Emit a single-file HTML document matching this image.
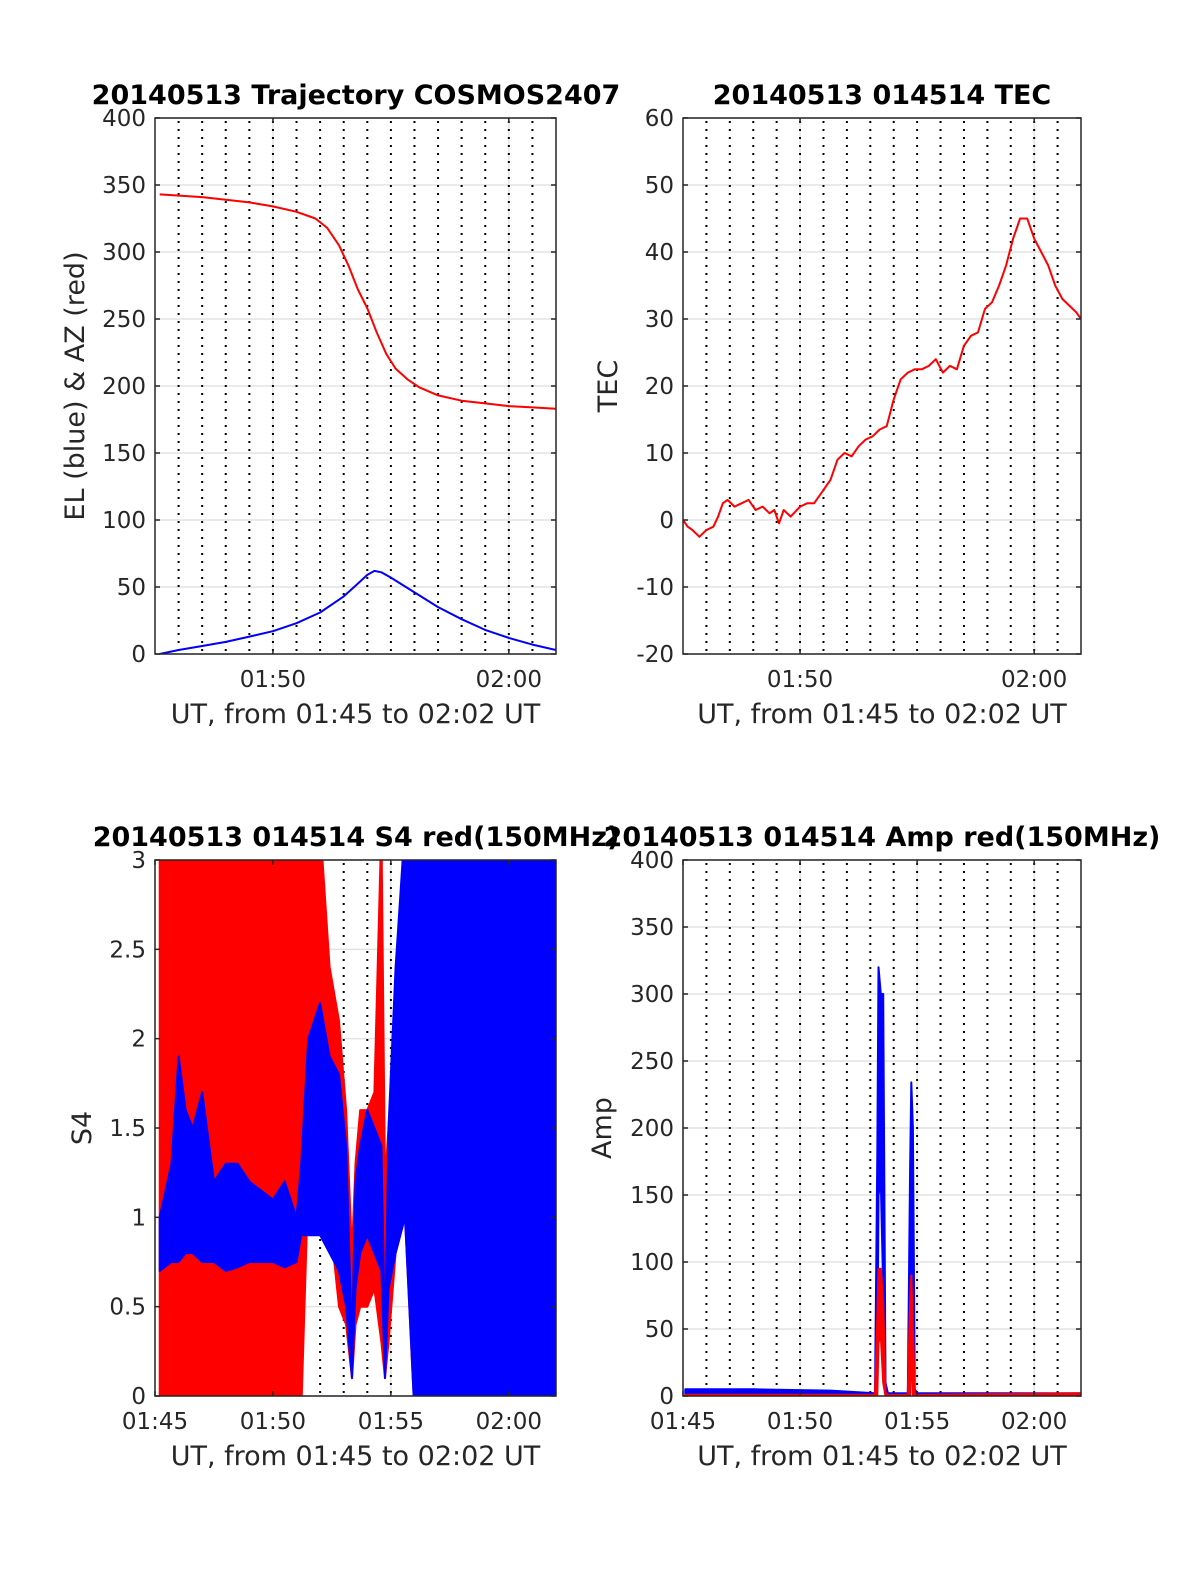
<!DOCTYPE html>
<html><head><meta charset="utf-8"><style>
body{margin:0;background:#fff}
svg{display:block;font-family:"DejaVu Sans","Liberation Sans",sans-serif}
</style></head><body>
<svg id="fig" width="1200" height="1575" viewBox="0 0 1200 1575"></svg>
<script>
// ---- data (t = minutes after 01:45 UT) ----
const azT = [0.2,2,4,5,6,6.8,7.3,7.8,8.2,8.6,9.0,9.4,9.8,10.2,10.7,11.2,12,13,14,15,16,17];
const azV = [343,341,337,334,330,325,318,305,290,272,258,240,224,213,205,199,193,189,187,185,184,183];
const elT = [0.2,1,2,3,4,5,6,7,8,8.5,9.0,9.3,9.6,10,11,12,13,14,15,16,17];
const elV = [0,3,6,9,13,17,23,31,43,51,59,62,61,57,46,35,26,18,12,7,3];
const tecT = [0,0.2,0.4,0.7,1.0,1.3,1.5,1.7,1.9,2.2,2.5,2.8,3.1,3.4,3.7,3.9,4.1,4.3,4.6,5.0,5.3,5.6,6.0,6.3,6.6,6.9,7.2,7.5,7.8,8.1,8.4,8.7,9.0,9.3,9.6,9.9,10.2,10.5,10.8,11.1,11.4,11.7,12.0,12.3,12.6,12.9,13.2,13.5,13.8,14.1,14.4,14.7,15.0,15.3,15.6,15.9,16.2,16.5,16.8,17];
const tecV = [0,-1,-1.5,-2.5,-1.5,-1,0.5,2.5,3,2,2.5,3,1.5,2,1,1.5,-0.5,1.5,0.5,2,2.5,2.5,4.5,6,9,10,9.5,11,12,12.5,13.5,14,18,21,22,22.5,22.5,23,24,22,23,22.5,26,27.5,28,31.5,32.5,35,38,42,45,45,42,40,38,35,33,32,31,30];
const s4T = [0.2,0.7,1.0,1.3,1.6,2.0,2.5,3.0,3.5,4.0,4.5,5.0,5.5,6.0,6.2,6.5,7.0,7.4,7.8,8.1,8.35,8.5,8.7,9.0,9.3,9.6,9.75,9.9,10.2,10.6,11.0,11.5,12.5,13.5,14.5,15.5,16.5,17];
const s4RedHi = [3.2,3.2,3.2,3.2,3.2,3.2,3.2,3.2,3.2,3.2,3.2,3.2,3.2,3.2,3.2,3.2,3.2,2.4,2.1,1.6,0.8,1.3,1.6,1.6,1.7,3.2,1.2,1.5,2.2,2.4,3.2,3.2,3.2,3.2,3.2,3.2,3.2,3.2];
const s4RedLo = [-0.1,-0.1,-0.1,-0.1,-0.1,-0.1,-0.1,-0.1,-0.1,-0.1,-0.1,-0.1,-0.1,-0.1,-0.1,1.2,1.0,1.0,0.5,0.4,0.1,0.4,0.5,0.5,0.6,0.3,0.1,0.3,0.8,1.0,-0.1,-0.1,-0.1,-0.1,-0.1,-0.1,-0.1,-0.1];
const s4BlueHi = [1.0,1.3,1.9,1.6,1.5,1.7,1.2,1.3,1.3,1.2,1.15,1.1,1.2,1.0,1.3,2.0,2.2,1.9,1.8,1.4,0.3,1.2,1.4,1.6,1.5,1.4,0.3,1.5,2.4,3.2,3.2,3.2,3.2,3.2,3.2,3.2,3.2,3.2];
const s4BlueLo = [0.7,0.75,0.75,0.8,0.8,0.75,0.75,0.7,0.72,0.75,0.75,0.75,0.72,0.75,0.9,0.9,0.9,0.8,0.7,0.5,0.1,0.6,0.8,0.9,0.8,0.7,0.1,0.6,0.8,1.0,-0.1,-0.1,-0.1,-0.1,-0.1,-0.1,-0.1,-0.1];
const ampT = [0.1,3,6.3,8.2,8.3,8.35,8.45,8.55,8.65,8.75,9.6,9.7,9.75,9.82,9.9,10.0,17];
const ampBlueHi = [5,5,4,2,180,320,300,300,10,2,2,170,234,200,5,2,2];
const ampBlueLo = [0,0,0,0,10,150,160,80,0,0,0,20,60,20,0,0,0];
const ampRedHi = [1,1,1,1,60,95,95,70,2,1,1,70,90,50,1,1,2];
const ampRedLo = [0,0,0,0,0,40,45,10,0,0,0,0,40,0,0,0,0];
const topXTicks = [5,15], topXLabels = ["01:50","02:00"];
const botXTicks = [0,5,10,15], botXLabels = ["01:45","01:50","01:55","02:00"];
const dotMinutes = [1,2,3,4,5,6,7,8,9,10,11,12,13,14,15,16];

const NS="http://www.w3.org/2000/svg", svg=document.getElementById('fig');
function mk(tag,attrs,parent){const e=document.createElementNS(NS,tag);for(const k in attrs)e.setAttribute(k,attrs[k]);(parent||svg).appendChild(e);return e;}

function panel(p){
  const g=mk('g',{});
  
  
  const X=t=>p.x0+(t/17)*(p.x1-p.x0);
  const Y=v=>p.y1-(v-p.ymin)/(p.ymax-p.ymin)*(p.y1-p.y0);
  const clipId='clip'+p.name;
  const cp=mk('clipPath',{id:clipId},g);
  mk('rect',{x:p.x0,y:p.y0,width:p.x1-p.x0,height:p.y1-p.y0},cp);
  p.yticks.forEach(v=>{const l=mk('line',{x1:p.x0,x2:p.x1,y1:Y(v),y2:Y(v),stroke:'#e3e3e3','stroke-width':1.5},g);
    });
  p.xticks.forEach(t=>{const l=mk('line',{x1:X(t),x2:X(t),y1:p.y0,y2:p.y1,stroke:'#e3e3e3','stroke-width':1.5},g);
    });
  dotMinutes.forEach(m=>{const l=mk('line',{x1:X(m),x2:X(m),y1:p.y0+3,y2:p.y1,stroke:'#000','stroke-width':2,'stroke-dasharray':'2 6'},g);
    });
  const dg=mk('g',{'clip-path':'url(#'+clipId+')'},g);
  
  
  p.draw(dg,X,Y);
  const b=mk('rect',{x:p.x0,y:p.y0,width:p.x1-p.x0,height:p.y1-p.y0,fill:'none',stroke:'#262626','stroke-width':1.5},g);
  
  p.yticks.forEach((v,i)=>{
    mk('line',{x1:p.x0,x2:p.x0+5,y1:Y(v),y2:Y(v),stroke:'#262626','stroke-width':1.5},g);
    mk('line',{x1:p.x1,x2:p.x1-5,y1:Y(v),y2:Y(v),stroke:'#262626','stroke-width':1.5},g);
    const tx=mk('text',{x:p.x0-9,y:Y(v)+8,'text-anchor':'end','font-size':23,fill:'#262626'},g);
    tx.textContent=p.ylabels[i];
    
  });
  p.xticks.forEach((t,i)=>{
    mk('line',{x1:X(t),x2:X(t),y1:p.y1,y2:p.y1-5,stroke:'#262626','stroke-width':1.5},g);
    mk('line',{x1:X(t),x2:X(t),y1:p.y0,y2:p.y0+5,stroke:'#262626','stroke-width':1.5},g);
    const tx=mk('text',{x:X(t),y:p.y1+33,'text-anchor':'middle','font-size':23,fill:'#262626'},g);
    tx.textContent=p.xlabels[i];
    
  });
  const xl=mk('text',{x:(p.x0+p.x1)/2,y:p.y1+69,'text-anchor':'middle','font-size':27,fill:'#262626'},g);
  xl.textContent='UT, from 01:45 to 02:02 UT';
  
  const cy=(p.y0+p.y1)/2;
  const yl=mk('text',{x:p.ylx,y:cy,'text-anchor':'middle','font-size':27,fill:'#262626',transform:'rotate(-90 '+p.ylx+' '+cy+')'},g);
  yl.textContent=p.ytitle;
  
  const tt=mk('text',{x:p.tx,y:p.y0-14,'text-anchor':'middle','font-size':27,'font-weight':'bold',fill:'#000'},g);
  tt.textContent=p.title;
  
}
function line(g,T,V,X,Y,color,w,name){
  const d=T.map((t,i)=>(i?'L':'M')+X(t).toFixed(1)+','+Y(V[i]).toFixed(1)).join('');
  const e=mk('path',{d:d,fill:'none',stroke:color,'stroke-width':w,'stroke-linejoin':'round'},g);
  
  
}
function band(g,T,HI,LO,X,Y,color,name){
  let d=T.map((t,i)=>(i?'L':'M')+X(t).toFixed(1)+','+Y(HI[i]).toFixed(1)).join('');
  for(let i=T.length-1;i>=0;i--) d+='L'+X(T[i]).toFixed(1)+','+Y(LO[i]).toFixed(1);
  const e=mk('path',{d:d+'Z',fill:color,stroke:color,'stroke-width':2,'stroke-linejoin':'round'},g);
  
  
}
panel({name:'trajectory-panel',x0:155,x1:556,y0:118,y1:654,ymin:0,ymax:400,
  yticks:[0,50,100,150,200,250,300,350,400],ylabels:['0','50','100','150','200','250','300','350','400'],
  xticks:topXTicks,xlabels:topXLabels,ytitle:'EL (blue) & AZ (red)',ylx:84,title:'20140513 Trajectory COSMOS2407',tx:356,
  draw:(g,X,Y)=>{line(g,azT,azV,X,Y,'#ff0000',2,'azimuth-line');line(g,elT,elV,X,Y,'#0000ff',2,'elevation-line');}});
panel({name:'tec-panel',x0:683,x1:1081,y0:118,y1:654,ymin:-20,ymax:60,
  yticks:[-20,-10,0,10,20,30,40,50,60],ylabels:['-20','-10','0','10','20','30','40','50','60'],
  xticks:topXTicks,xlabels:topXLabels,ytitle:'TEC',ylx:617,title:'20140513 014514 TEC',tx:882,
  draw:(g,X,Y)=>{line(g,tecT,tecV,X,Y,'#ff0000',2,'tec-line');}});
panel({name:'s4-panel',x0:155,x1:556,y0:860,y1:1396,ymin:0,ymax:3,
  yticks:[0,0.5,1,1.5,2,2.5,3],ylabels:['0','0.5','1','1.5','2','2.5','3'],
  xticks:botXTicks,xlabels:botXLabels,ytitle:'S4',ylx:91,title:'20140513 014514 S4 red(150MHz)',tx:356,
  draw:(g,X,Y)=>{band(g,s4T,s4RedHi,s4RedLo,X,Y,'#ff0000','s4-red-series');band(g,s4T,s4BlueHi,s4BlueLo,X,Y,'#0000ff','s4-blue-series');}});
panel({name:'amp-panel',x0:683,x1:1081,y0:860,y1:1396,ymin:0,ymax:400,
  yticks:[0,50,100,150,200,250,300,350,400],ylabels:['0','50','100','150','200','250','300','350','400'],
  xticks:botXTicks,xlabels:botXLabels,ytitle:'Amp',ylx:611,title:'20140513 014514 Amp red(150MHz)',tx:882,
  draw:(g,X,Y)=>{band(g,ampT,ampBlueHi,ampBlueLo,X,Y,'#0000ff','amp-blue-series');band(g,ampT,ampRedHi,ampRedLo,X,Y,'#ff0000','amp-red-series');}});
</script>
</body></html>
